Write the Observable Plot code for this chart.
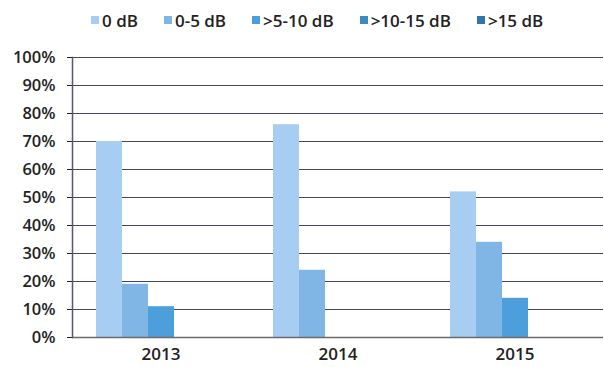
<!DOCTYPE html>
<html>
<head>
<meta charset="utf-8">
<script src="https://cdn.jsdelivr.net/npm/d3@7"></script>
<script src="https://cdn.jsdelivr.net/npm/@observablehq/plot@0.6"></script>
<style>
  html, body { margin: 0; padding: 0; background: #fff; }
  #chart { width: 604px; height: 367px; position: relative; font-family: "Open Sans", sans-serif; }
  #legend { height: 40px; display: flex; align-items: center; padding-left: 91px; box-sizing: border-box; font-size: 17px; font-weight: 600; color: #222; }
  #legend .item { display: flex; align-items: center; margin-right: 26px; }
  #legend .sw { width: 8px; height: 8px; margin-right: 3px; }
  svg [aria-label^="fx-axis"] text { font-size: 17px; }
  svg [aria-label^="y-axis"] text { font-size: 16.5px; }
</style>
</head>
<body>
<div id="chart">
  <div id="legend"></div>
</div>
<script>
const years = ["2013", "2014", "2015"];
const series = ["0 dB", "0-5 dB", ">5-10 dB", ">10-15 dB", ">15 dB"];
const values2013 = [70, 19, 11, 0, 0];
const values2014 = [76, 24, 0, 0, 0];
const values2015 = [52, 34, 14, 0, 0];
const colors = ["#a8cdf3", "#80b6e6", "#4c9fdb", "#3a8cc0", "#2e77a8"];

const valuesByYear = [values2013, values2014, values2015];
const data = [];
years.forEach((yr, i) => series.forEach((s, j) => data.push({year: yr, series: s, value: valuesByYear[i][j] / 100})));

const legend = document.getElementById("legend");
series.forEach((s, i) => {
  const it = document.createElement("div");
  it.className = "item";
  const sw = document.createElement("div");
  sw.className = "sw";
  sw.style.background = colors[i];
  const t = document.createElement("span");
  t.textContent = s;
  it.appendChild(sw); it.appendChild(t);
  legend.appendChild(it);
});

const chart = Plot.plot({
  width: 604,
  height: 327,
  marginTop: 17,
  marginBottom: 30,
  marginLeft: 72,
  marginRight: 1,
  style: {fontFamily: "Open Sans, sans-serif", fontSize: "16px", fontWeight: 600, color: "#222", background: "#fff"},
  fx: {domain: years, padding: 0, label: null, axis: "bottom", tickSize: 0, tickPadding: 10},
  x: {domain: series, paddingInner: 0, paddingOuter: 0.78, axis: null},
  y: {domain: [0, 1], ticks: 10, tickFormat: d3.format(".0%"), label: null, tickSize: 5, tickPadding: 12},
  color: {domain: series, range: colors},
  marks: [
    Plot.gridY({ticks: 10, stroke: "#45455f", strokeOpacity: 1, strokeWidth: 1}),
    Plot.barY(data, {fx: "year", x: "series", y: "value", fill: "series"}),
    Plot.ruleY([0], {stroke: "#6a6a6a", strokeWidth: 1.5}),
    Plot.frame({anchor: "left", fx: [years[0]], stroke: "#55557a", strokeWidth: 1.5})
  ]
});
document.getElementById("chart").appendChild(chart);
</script>
</body>
</html>
